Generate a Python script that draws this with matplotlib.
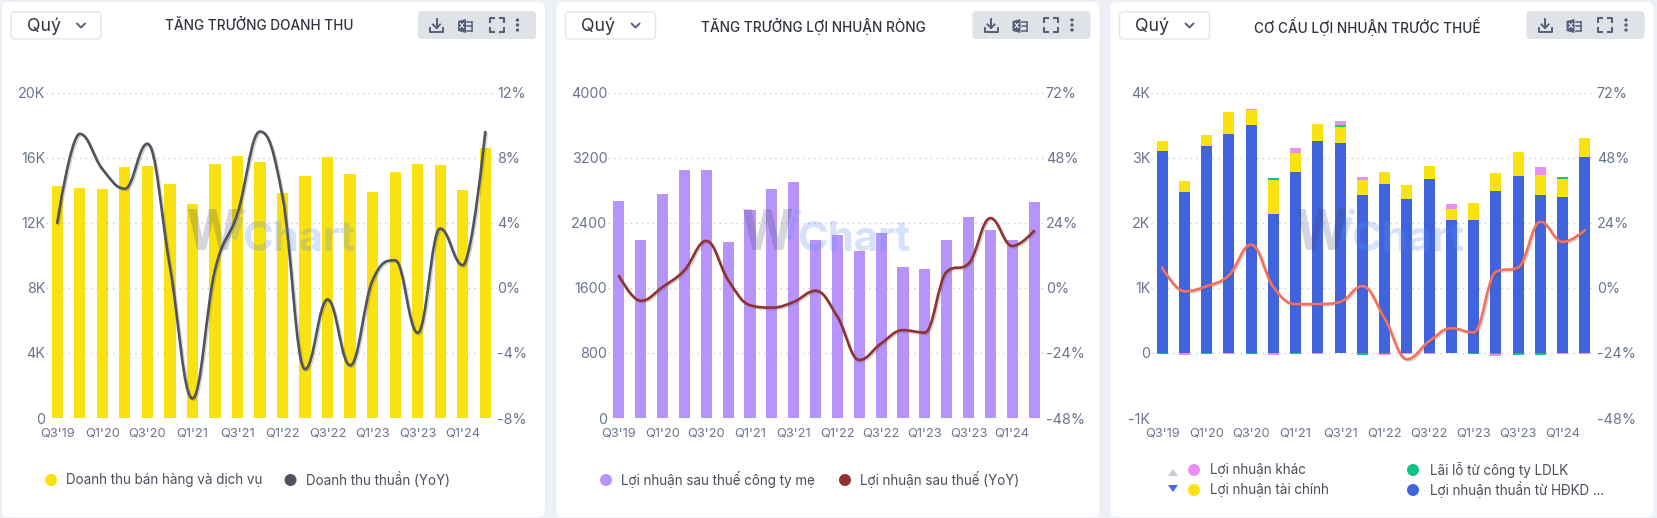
"""Three WiChart panels: revenue growth, net profit growth, pre-tax profit structure."""

import matplotlib
matplotlib.use("Agg")
import matplotlib.pyplot as plt
import matplotlib.patheffects as pe
from matplotlib.patches import Circle, FancyBboxPatch, PathPatch, Polygon
from matplotlib.path import Path

W, H = 1657, 518
plt.rcParams["font.family"] = ["Inter", "DejaVu Sans"]

QUARTERS = ["Q3'19", "Q4'19", "Q1'20", "Q2'20", "Q3'20", "Q4'20", "Q1'21", "Q2'21", "Q3'21", "Q4'21",
            "Q1'22", "Q2'22", "Q3'22", "Q4'22", "Q1'23", "Q2'23", "Q3'23", "Q4'23", "Q1'24", "Q2'24"]
X_LABELS = [q if i % 2 == 0 else "" for i, q in enumerate(QUARTERS)]

# panel 1
revenue = [14233, 14153, 14092, 15399, 15479, 14374, 13129, 15601, 16092, 15724,
           13804, 14865, 16031, 14988, 13865, 15110, 15601, 15540, 14006, 16583]
revenue_yoy = [3.98, 9.46, 7.3, 6.09, 8.85, 1.3, -6.8, 1.08, 4.56, 9.6,
               5.6, -5.0, -0.72, -4.77, 0.47, 1.69, -2.77, 3.64, 1.39, 9.57]

# panel 2
net_profit = [2663, 2184, 2748, 3052, 3052, 2168, 2552, 2818, 2899, 2184,
              2249, 2058, 2279, 1853, 1837, 2184, 2470, 2307, 2184, 2650]
net_profit_yoy = [4.4, -4.8, 0.3, 6.5, 17.3, 2.8, -6.4, -7.3, -5.2, -1.1,
                  -10.7, -26.6, -20.5, -15.6, -16.5, 5.9, 8.9, 25.7, 15.4, 21.0]

# panel 3
op_profit = [3096, 2472, 3183, 3357, 3495, 2129, 2784, 3250, 3219, 2426,
             2595, 2370, 2666, 2042, 2042, 2492, 2718, 2426, 2400, 3014]
fin_profit = [154, 169, 169, 338, 241, 532, 281, 261, 256, 225,
              184, 205, 205, 169, 261, 271, 374, 307, 276, 287]
assoc_profit = [-15, 0, -10, 0, -10, 26, -15, -5, 20, -30,
                -15, 0, 0, 0, -10, -15, -25, -25, 20, 0]
other_profit = [0, -25, 0, -10, 18, -25, 82, -10, 66, 46,
                -15, -10, -20, 72, 0, -30, 0, 118, -10, -10]
pretax_yoy = [7.5, -1.3, 0.6, 4.6, 15.9, 0.3, -6.0, -6.0, -5.2, 0.6,
              -11.3, -26.3, -19.7, -14.9, -16.5, 5.9, 7.5, 24.3, 16.9, 21.2]

YELLOW = "#f9e112"
GREY_LINE = "#50545f"
PURPLE = "#b794fb"
MAROON = "#8f3232"
BLUE = "#4063de"
PINK = "#e98ff0"
GREEN = "#12c383"
CORAL = "#f8705a"
TICK = "#6a7590"
DARK = "#2f3440"
LEGEND_TEXT = "#4b4f5c"
ICON = "#56617a"


def spline_path(xs, ys):
    """Curve through the points the way the charting library's spline series does."""
    verts = [(xs[0], ys[0])]
    codes = [Path.MOVETO]
    right = (xs[0], ys[0])
    n = len(xs)
    for i in range(1, n):
        x, y = xs[i], ys[i]
        if i < n - 1:
            lx, ly = xs[i - 1], ys[i - 1]
            nx, ny = xs[i + 1], ys[i + 1]
            lcx, lcy = (1.5 * x + lx) / 2.5, (1.5 * y + ly) / 2.5
            rcx, rcy = (1.5 * x + nx) / 2.5, (1.5 * y + ny) / 2.5
            corr = (rcy - lcy) * (rcx - x) / (rcx - lcx) + y - rcy
            lcy += corr
            rcy += corr
            if lcy > ly and lcy > y:
                lcy = max(ly, y)
                rcy = 2 * y - lcy
            elif lcy < ly and lcy < y:
                lcy = min(ly, y)
                rcy = 2 * y - lcy
            if rcy > ny and rcy > y:
                rcy = max(ny, y)
                lcy = 2 * y - rcy
            elif rcy < ny and rcy < y:
                rcy = min(ny, y)
                lcy = 2 * y - rcy
        else:
            lcx, lcy, rcx, rcy = x, y, x, y
        verts += [right, (lcx, lcy), (x, y)]
        codes += [Path.CURVE4] * 3
        right = (rcx, rcy)
    return Path(verts, codes)


def make_axes(fig, left, right):
    ax = fig.add_axes([left / W, 1 - 418 / H, (right - left) / W, (418 - 92.5) / H], zorder=2)
    ax.patch.set_alpha(0)
    for s in ax.spines.values():
        s.set_visible(False)
    ax.set_xlim(-0.5, 19.5)
    ax.set_axisbelow(True)
    ax.yaxis.grid(True, color="#c6cbd4", linewidth=1, linestyle=(0, (1, 3)))
    ax.tick_params(length=0, labelcolor=TICK)
    ax.tick_params(axis="y", labelsize=10.3, pad=0.5)
    ax.tick_params(axis="x", labelsize=9.3, pad=7)
    ax.set_xticks(range(len(QUARTERS)), X_LABELS)
    rax = ax.twinx()
    rax.patch.set_alpha(0)
    for s in rax.spines.values():
        s.set_visible(False)
    rax.tick_params(length=0, labelcolor=TICK, labelsize=10.3, pad=0.5)
    return ax, rax


def set_yaxis(ax, lim, ticks, labels):
    ax.set_ylim(*lim)
    ax.set_yticks(ticks, labels)
    # reference labels sit a touch under their gridline
    for lab in ax.get_yticklabels():
        lab.set_verticalalignment("center_baseline")


def draw_line(rax, values, color):
    patch = PathPatch(spline_path(list(range(len(values))), values), fill=False, edgecolor=color,
                      linewidth=1.9, capstyle="round", zorder=4)
    patch.set_path_effects([pe.SimpleLineShadow(offset=(1, -1), shadow_color="#555555", alpha=0.25),
                            pe.Normal()])
    rax.add_patch(patch)


def chrome(bg, ox, title, title_x):
    bg.add_patch(FancyBboxPatch((ox + 7, 7), 533, 505, boxstyle="round,pad=5,rounding_size=6",
                                fc="white", ec="none"))
    # period dropdown
    bg.add_patch(FancyBboxPatch((ox + 13, 14), 86, 23, boxstyle="round,pad=2,rounding_size=4",
                                fc="white", ec="#e3e6ee", lw=1))
    bg.text(ox + 27, 26, "Quý", fontsize=12.8, color=DARK, va="center", ha="left")
    bg.plot([ox + 77, ox + 81, ox + 85], [23.5, 27.5, 23.5], color=ICON, lw=1.4, solid_capstyle="round")
    bg.text(title_x, 26, title, fontsize=9.8, color=DARK, va="center", ha="center", fontweight="medium")
    # toolbar
    bg.add_patch(FancyBboxPatch((ox + 420, 13), 114, 24, boxstyle="round,pad=2,rounding_size=4",
                                fc="#dfe3e8", ec="none"))
    dl = ox + 436.5
    bg.plot([dl, dl], [19, 28], color=ICON, lw=1.4)
    bg.plot([dl - 3.5, dl, dl + 3.5], [24.5, 28, 24.5], color=ICON, lw=1.4)
    bg.plot([dl - 6.5, dl - 6.5, dl + 6.5, dl + 6.5], [28, 31.5, 31.5, 28], color=ICON, lw=1.4)
    xl = ox + 465
    bg.add_patch(Polygon([(xl - 7, 21), (xl + 1, 19), (xl + 1, 33), (xl - 7, 31)], fc=ICON, ec="none"))
    bg.text(xl - 3, 26, "X", fontsize=5.5, color="white", ha="center", va="center", fontweight="bold")
    for yy in (21.5, 26, 30.5):
        bg.plot([xl + 2, xl + 7], [yy, yy], color=ICON, lw=1.1)
    bg.plot([xl + 7, xl + 7], [21.5, 30.5], color=ICON, lw=1.1)
    fs = ox + 496.5
    for sx in (-1, 1):
        for sy in (-1, 1):
            bg.plot([fs + sx * 3, fs + sx * 7, fs + sx * 7], [25 + sy * 7, 25 + sy * 7, 25 + sy * 3],
                    color=ICON, lw=1.5)
    for yy in (20, 25, 30):
        bg.add_patch(Circle((ox + 517.5, yy), 1.7, fc=ICON, ec="none"))


def watermark(top, ox):
    top.text(ox + 213, 234, "W", fontsize=42, fontweight="bold", family=["Roboto", "DejaVu Sans"],
             color="#3a4560", alpha=0.22, ha="center", va="center")
    top.text(ox + 236, 229, "i", fontsize=30, fontweight="bold", color="#5d8cf5", alpha=0.25,
             ha="center", va="center", rotation=-18)
    top.text(ox + 242, 240, "Chart", fontsize=30, fontweight="bold", color="#5d8cf5", alpha=0.25,
             ha="left", va="center")


def legend_item(bg, x, y, text, color, text_x):
    bg.add_patch(Circle((x, y), 6, fc=color, ec="none"))
    bg.text(text_x, y, text, fontsize=9.7, color=LEGEND_TEXT, va="center", ha="left")


def main():
    fig = plt.figure(figsize=(W / 100, H / 100), dpi=100, facecolor="#edf0f7")
    bg = fig.add_axes([0, 0, 1, 1], zorder=0)
    bg.set_xlim(0, W)
    bg.set_ylim(H, 0)
    bg.axis("off")
    top = fig.add_axes([0, 0, 1, 1], zorder=5)
    top.set_xlim(0, W)
    top.set_ylim(H, 0)
    top.axis("off")
    top.patch.set_alpha(0)

    chrome(bg, 0, "TĂNG TRƯỞNG DOANH THU", 259)
    chrome(bg, 554.5, "TĂNG TRƯỞNG LỢI NHUẬN RÒNG", 813.7)
    chrome(bg, 1108.5, "CƠ CẤU LỢI NHUẬN TRƯỚC THUẾ", 1367)
    for ox in (0, 555, 1109):
        watermark(top, ox)

    x = range(len(QUARTERS))
    bar_w = 0.5

    # revenue
    ax, rax = make_axes(fig, 46, 496.5)
    ax.bar(x, revenue, width=bar_w, color=YELLOW, zorder=2)
    set_yaxis(ax, (0, 20000), [0, 4000, 8000, 12000, 16000, 20000], ["0", "4K", "8K", "12K", "16K", "20K"])
    set_yaxis(rax, (-8, 12), [-8, -4, 0, 4, 8, 12], ["-8%", "-4%", "0%", "4%", "8%", "12%"])
    draw_line(rax, revenue_yoy, GREY_LINE)
    legend_item(bg, 51, 480, "Doanh thu bán hàng và dịch vụ", YELLOW, 66.5)
    legend_item(bg, 290.5, 480, "Doanh thu thuần (YoY)", GREY_LINE, 305.5)

    # net profit
    ax, rax = make_axes(fig, 608, 1045)
    ax.bar(x, net_profit, width=bar_w * 1.02, color=PURPLE, zorder=2)
    set_yaxis(ax, (0, 4000), [0, 800, 1600, 2400, 3200, 4000], ["0", "800", "1600", "2400", "3200", "4000"])
    pct_ticks = [-48, -24, 0, 24, 48, 72]
    pct_labels = ["-48%", "-24%", "0%", "24%", "48%", "72%"]
    set_yaxis(rax, (-48, 72), pct_ticks, pct_labels)
    draw_line(rax, net_profit_yoy, MAROON)
    legend_item(bg, 606, 480, "Lợi nhuận sau thuế công ty mẹ", PURPLE, 621)
    legend_item(bg, 845, 480, "Lợi nhuận sau thuế (YoY)", MAROON, 860.5)

    # pre-tax structure: positives stack up from zero, negatives stack down
    ax, rax = make_axes(fig, 1151, 1596)
    pos = [0.0] * len(QUARTERS)
    neg = [0.0] * len(QUARTERS)
    for values, color in [(op_profit, BLUE), (fin_profit, YELLOW), (assoc_profit, GREEN), (other_profit, PINK)]:
        bottoms = [pos[i] if v >= 0 else neg[i] for i, v in enumerate(values)]
        ax.bar(x, values, width=bar_w, bottom=bottoms, color=color, zorder=2)
        for i, v in enumerate(values):
            if v >= 0:
                pos[i] += v
            else:
                neg[i] += v
    set_yaxis(ax, (-1000, 4000), [-1000, 0, 1000, 2000, 3000, 4000], ["-1K", "0", "1K", "2K", "3K", "4K"])
    set_yaxis(rax, (-48, 72), pct_ticks, pct_labels)
    draw_line(rax, pretax_yoy, CORAL)
    bg.add_patch(Polygon([(1168, 476), (1178, 476), (1173, 469)], fc="#c5ccd6", ec="none"))
    bg.add_patch(Polygon([(1168, 485), (1178, 485), (1173, 492)], fc="#3d6cf0", ec="none"))
    legend_item(bg, 1194, 470, "Lợi nhuận khác", PINK, 1210)
    legend_item(bg, 1194, 490, "Lợi nhuận tài chính", YELLOW, 1210)
    legend_item(bg, 1413, 470, "Lãi lỗ từ công ty LDLK", GREEN, 1429.5)
    legend_item(bg, 1413, 490, "Lợi nhuận thuần từ HĐKD ...", BLUE, 1429.5)

    fig.savefig("out.png", dpi=100, facecolor=fig.get_facecolor())


if __name__ == "__main__":
    main()
